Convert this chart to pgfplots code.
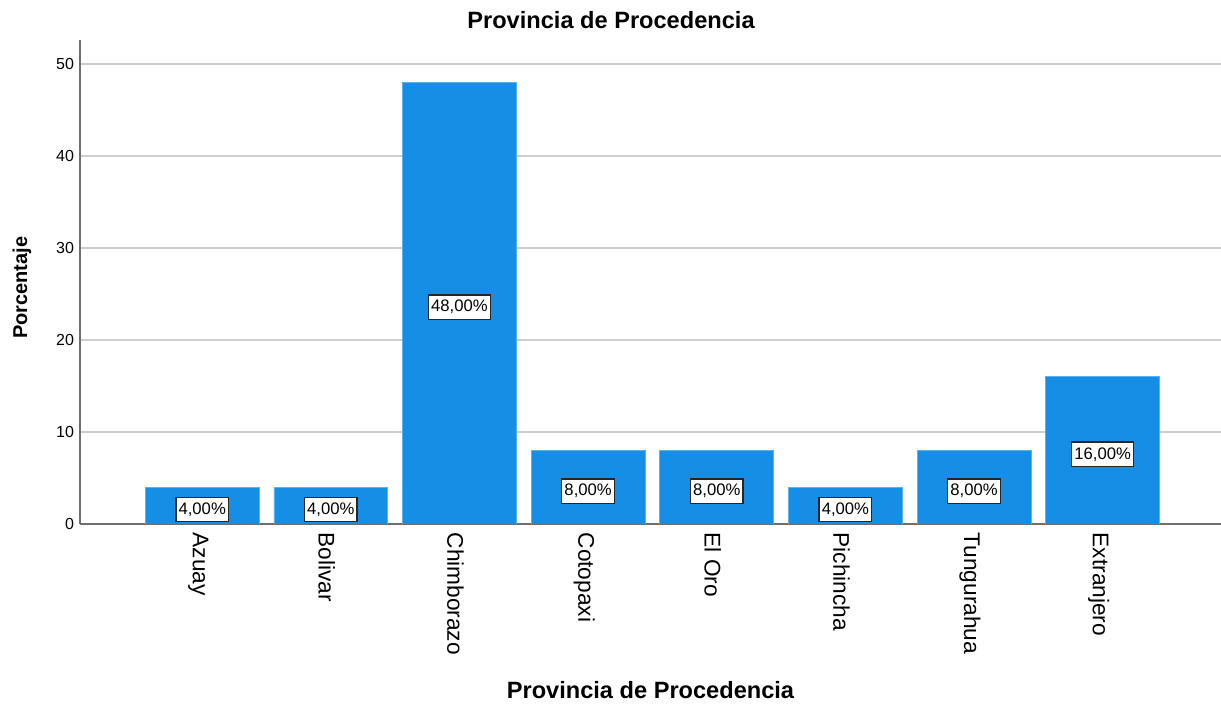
\documentclass[border=0pt]{standalone}
\usepackage{pgfplots}
\usepackage{pgfplotstable}
\pgfplotsset{compat=1.18}
\usepackage{fontspec}
\setmainfont{Liberation Sans}
\definecolor{barblue}{RGB}{21,143,230}
\definecolor{gridgray}{RGB}{205,205,205}
\definecolor{axgray}{RGB}{110,110,110}
\pgfplotstableread{
x y
0 4
1 4
2 48
3 8
4 8
5 4
6 8
7 16
}\data
\begin{document}
\begin{tikzpicture}
\begin{axis}[
  scale only axis,
  width=855.75pt, height=363pt,
  xmin=-0.95, xmax=7.92,
  ymin=0, ymax=52.6,
  axis lines*=left,
  axis line style={axgray, line width=1pt},
  ymajorgrids,
  grid style={gridgray, line width=1.3pt},
  major tick length=0pt,
  xtick={0,1,2,3,4,5,6,7},
  xticklabels={Azuay,Bolivar,Chimborazo,Cotopaxi,El Oro,Pichincha,Tungurahua,Extranjero},
  ytick={0,10,20,30,40,50},
  /pgf/number format/assume math mode=true,
  yticklabel style={font=\fontsize{12}{14}\selectfont, xshift=-1pt},
  xticklabel style={font=\fontsize{17}{19}\selectfont, rotate=-90, anchor=west, xshift=3pt, yshift=-3pt},
  title={\fontsize{17.7}{20}\selectfont\bfseries Provincia de Procedencia},
  title style={at={(axis description cs:0.4654,1)}, anchor=center, yshift=9pt},
  xlabel={\fontsize{17.7}{20}\selectfont\bfseries Provincia de Procedencia},
  x label style={at={(axis description cs:0.5,0)}, anchor=center, yshift=-124.5pt},
  ylabel={\fontsize{15}{17}\selectfont\bfseries Porcentaje},
  y label style={at={(axis description cs:-0.0508,0.488)}, anchor=center},
]
\addplot[ybar, bar width=0.886, fill=barblue, draw=barblue!70!white, line width=0.5pt] table[x=x, y=y]{\data};
\addplot[draw=none, mark=none,
  point meta=explicit,
  nodes near coords={\pgfmathprintnumber[fixed, fixed zerofill, precision=2, use comma, assume math mode=true]{\pgfplotspointmeta}\%},
  every node near coord/.style={anchor=center, yshift=-3pt, draw=black!85, line width=1pt, fill=white, inner xsep=2pt, inner ysep=4pt, font=\fontsize{12.5}{14}\selectfont},
] table[x=x, y expr=\thisrow{y}/2, meta=y]{\data};
\end{axis}
\pgfresetboundingbox
\path (current axis.south west) ++(-60pt,-135pt) coordinate (bba);
\path (current axis.north east) ++(0pt,30pt) coordinate (bbb);
\path[use as bounding box] (bba) rectangle (bbb);
\end{tikzpicture}
\end{document}
